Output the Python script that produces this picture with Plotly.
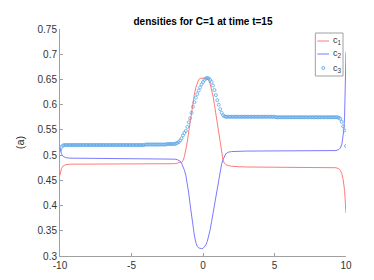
import numpy as np
import plotly.graph_objects as go

# c1 (red line)
x1 = [-10, -9.95, -9.9, -9.8, -9.6, -9.3, -5, -2.5, -2.0, -1.8, -1.6, -1.5, -1.4, -1.3, -1.2, -1.1,
      -1.0, -0.9, -0.8, -0.7, -0.6, -0.5, -0.4, -0.3, -0.2, 0, 0.2, 0.3, 0.4, 0.5, 0.6, 0.7, 0.8,
      0.9, 1.0, 1.1, 1.2, 1.3, 1.4, 1.5, 1.6, 1.8, 2.0, 2.5, 3, 5, 9.0, 9.3, 9.5, 9.6, 9.7, 9.8,
      9.9, 9.95, 10]
c1 = [0.460, 0.468, 0.473, 0.478, 0.481, 0.482, 0.482, 0.482, 0.483, 0.484, 0.486, 0.485, 0.489,
      0.497, 0.509, 0.526, 0.546, 0.567, 0.588, 0.606, 0.621, 0.634, 0.644, 0.650, 0.652, 0.653,
      0.653, 0.652, 0.648, 0.641, 0.631, 0.617, 0.600, 0.581, 0.560, 0.538, 0.518, 0.501, 0.490,
      0.484, 0.481, 0.479, 0.478, 0.477, 0.4765, 0.476, 0.476, 0.475, 0.473, 0.470, 0.464, 0.452,
      0.430, 0.410, 0.385]

# c2 (blue line)
x2 = [-10, -9.95, -9.9, -9.8, -9.6, -9.3, -5, -2.5, -2.0, -1.8, -1.6, -1.5, -1.4, -1.3, -1.2, -1.1,
      -1.0, -0.9, -0.8, -0.7, -0.6, -0.5, -0.4, -0.3, -0.2, -0.1, 0, 0.1, 0.2, 0.3, 0.4, 0.5, 0.6,
      0.7, 0.8, 0.9, 1.0, 1.1, 1.2, 1.3, 1.4, 1.5, 1.6, 1.8, 2.0, 3, 9.3, 9.5, 9.6, 9.7, 9.8, 9.85,
      9.9, 9.95, 10]
c2 = [0.515, 0.508, 0.503, 0.498, 0.495, 0.494, 0.493, 0.493, 0.492, 0.491, 0.488, 0.484, 0.478,
      0.470, 0.460, 0.445, 0.425, 0.402, 0.378, 0.357, 0.340, 0.327, 0.319, 0.316, 0.315, 0.3145,
      0.315, 0.318, 0.322, 0.329, 0.339, 0.352, 0.368, 0.385, 0.403, 0.421, 0.438, 0.455, 0.470,
      0.482, 0.491, 0.498, 0.503, 0.506, 0.507, 0.508, 0.509, 0.511, 0.514, 0.520, 0.535, 0.550,
      0.575, 0.625, 0.705]

# c3 (markers), x = -10, -9.9, ..., 10
c3 = ([0.510, 0.516, 0.519] + [0.520] * 57 + [0.521] * 15 + [0.522] * 6 +
      [0.523, 0.524, 0.526, 0.529, 0.533, 0.539, 0.544, 0.548, 0.556, 0.565, 0.573, 0.584, 0.596,
       0.605, 0.614, 0.621, 0.628, 0.634, 0.640, 0.645, 0.649, 0.652, 0.653, 0.652, 0.649, 0.645,
       0.638, 0.629, 0.619, 0.609, 0.600, 0.591, 0.584, 0.579, 0.577, 0.576] +
      [0.576] * 34 + [0.575] * 44 +
      [0.574, 0.572, 0.566, 0.557, 0.549, 0.518])
x3 = np.round(np.linspace(-10, 10, len(c3)), 3)

xticks = [-10, -5, 0, 5, 10]
yticks = [0.3, 0.35, 0.4, 0.45, 0.5, 0.55, 0.6, 0.65, 0.7, 0.75]
yticklabels = ["0.3", "0.35", "0.4", "0.45", "0.5", "0.55", "0.6", "0.65", "0.7", "0.75"]
legend_labels = ["c<sub>1</sub>", "c<sub>2</sub>", "c<sub>3</sub>"]

RED = "#ff7a7a"
BLUE = "#7a7aff"
MARK = "#5aa5e6"
FONT = "Liberation Sans, Arial"

fig = go.Figure()
fig.add_trace(go.Scatter(x=x1, y=c1, mode="lines", name=legend_labels[0],
                         line=dict(color=RED, width=1), showlegend=False))
fig.add_trace(go.Scatter(x=x2, y=c2, mode="lines", name=legend_labels[1],
                         line=dict(color=BLUE, width=1), showlegend=False))
fig.add_trace(go.Scatter(x=x3, y=c3, mode="markers", name=legend_labels[2], showlegend=False,
                         marker=dict(symbol="circle-open", size=3, color=MARK,
                                     line=dict(width=0.8))))

axis_common = dict(showline=True, linecolor="#a0a0a0", linewidth=1, ticks="inside", ticklen=3,
                   tickcolor="#a0a0a0", showgrid=False, zeroline=False,
                   tickfont=dict(family=FONT, size=10, color="#333333"))

# custom compact legend (pixel geometry -> paper coords)
L, R, T, B = 49, 338, 21, 248
def px(x): return (x - L) / (R - L)
def py(y): return (B - y) / (B - T)

shapes = [
    dict(type="rect", xref="paper", yref="paper", x0=px(307), x1=px(335), y0=py(68), y1=py(25),
         line=dict(color="#a0a0a0", width=1), fillcolor="white", layer="above"),
    dict(type="line", xref="paper", yref="paper", x0=px(309), x1=px(321), y0=py(33), y1=py(33),
         line=dict(color=RED, width=1), layer="above"),
    dict(type="line", xref="paper", yref="paper", x0=px(309), x1=px(321), y0=py(46), y1=py(46),
         line=dict(color=BLUE, width=1), layer="above"),
    dict(type="circle", xref="paper", yref="paper", x0=px(313.5), x1=px(316.5), y0=py(61.5),
         y1=py(58.5), line=dict(color=MARK, width=0.9), layer="above"),
]
annotations = []
for lab, yy in zip(legend_labels, [33, 46, 60]):
    annotations.append(dict(text=lab, xref="paper", yref="paper", x=px(323), y=py(yy),
                            xanchor="left", yanchor="middle", showarrow=False,
                            font=dict(family=FONT, size=9, color="#333333")))

fig.update_layout(
    width=374, height=280,
    margin=dict(l=L, r=374 - R, t=T, b=280 - B),
    paper_bgcolor="white", plot_bgcolor="white",
    title=dict(text="<b>densities for C=1 at time t=15</b>", x=0.5, xref="paper", xanchor="center",
               y=1 - 13 / 280, yanchor="middle",
               font=dict(family=FONT, size=10, color="#000000")),
    xaxis=dict(range=[-10, 10], tickvals=xticks, ticktext=[str(t) for t in xticks], **axis_common),
    yaxis=dict(range=[0.3, 0.75], tickvals=yticks, ticktext=yticklabels,
               title=dict(text="(a)", standoff=10,
                          font=dict(family=FONT, size=11, color="#333333")),
               **axis_common),
    shapes=shapes,
    annotations=annotations,
    showlegend=False,
)

fig.write_html("out.html")
